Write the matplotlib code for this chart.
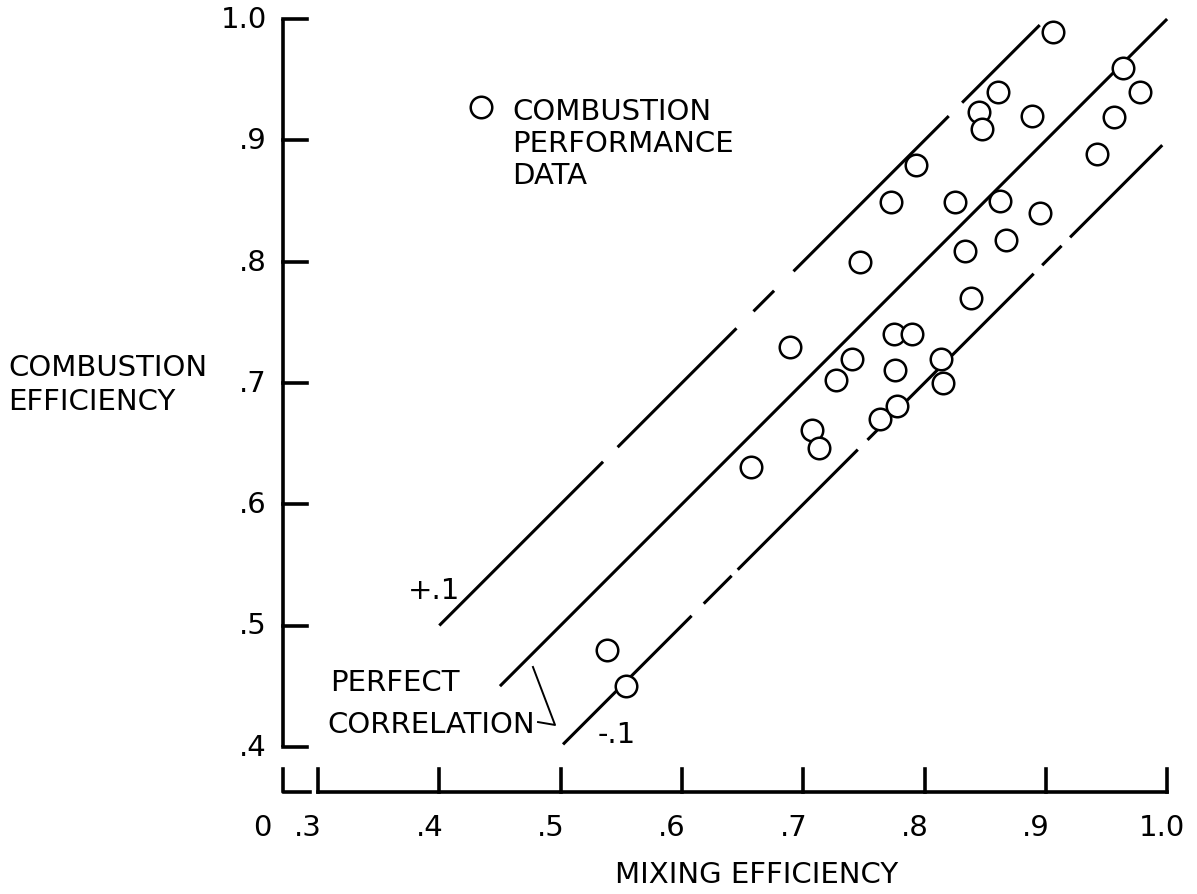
import matplotlib
matplotlib.use("Agg")
import matplotlib.pyplot as plt

# data
mixing = [0.538, 0.554, 0.657, 0.689, 0.707, 0.713, 0.727, 0.740, 0.747, 0.763,
          0.772, 0.775, 0.776, 0.777, 0.790, 0.793, 0.814, 0.815, 0.825, 0.833,
          0.838, 0.845, 0.847, 0.861, 0.862, 0.867, 0.889, 0.895, 0.906, 0.942,
          0.956, 0.964, 0.978]
combustion = [0.480, 0.450, 0.631, 0.730, 0.661, 0.646, 0.702, 0.720, 0.800, 0.670,
              0.849, 0.740, 0.711, 0.681, 0.740, 0.880, 0.720, 0.700, 0.849, 0.809,
              0.770, 0.923, 0.909, 0.940, 0.850, 0.818, 0.920, 0.840, 0.989, 0.889,
              0.919, 0.960, 0.940]

# correlation band: offset from perfect line and drawn x-ranges (scan has gaps)
band_offsets = [0.1, 0.0, -0.1]
band_segments = [
    [(0.40, 0.535), (0.547, 0.645), (0.659, 0.676), (0.692, 0.820), (0.831, 0.895)],
    [(0.45, 1.0)],
    [(0.502, 0.608), (0.618, 0.641), (0.646, 0.745), (0.753, 0.890), (0.897, 0.913), (0.920, 0.996)],
]

x_ticks = [0.3, 0.4, 0.5, 0.6, 0.7, 0.8, 0.9, 1.0]
x_labels = ['.3', '.4', '.5', '.6', '.7', '.8', '.9', '1.0']
y_ticks = [0.4, 0.5, 0.6, 0.7, 0.8, 0.9, 1.0]
y_labels = ['.4', '.5', '.6', '.7', '.8', '.9', '1.0']

plt.rcParams['font.family'] = ['DejaVu Sans']
FS = 21

fig = plt.figure(figsize=(11.97, 8.95), dpi=100)
ax = fig.add_axes([0, 0, 1, 1])
# pixel mapping of the original: 0.1 unit = 121.3 px on both axes
ax.set_xlim(0.3 - 318 / 1213, 0.3 + 879 / 1213)
ax.set_ylim(1 - 875 / 1213, 1 + 20 / 1213)
ax.axis('off')

lw_axis = 2.6
lw_line = 2.2
yax_x = 0.2711
xax_y = 0.3627

# y axis with inward ticks
ax.plot([yax_x, yax_x], [0.4, 1.0], color='black', lw=lw_axis, solid_capstyle='butt')
for t, lab in zip(y_ticks, y_labels):
    ax.plot([yax_x, yax_x + 0.0198], [t, t], color='black', lw=lw_axis)
    ax.text(0.258, t, lab, fontsize=FS, ha='right', va='center')

# origin piece of the broken axis
ax.plot([yax_x, yax_x, 0.2934], [0.3817, xax_y, xax_y], color='black', lw=lw_axis)
ax.text(0.2538, 0.3339, '0', fontsize=FS, ha='center', va='center')

# x axis with upward ticks
ax.plot([0.3, 1.0], [xax_y, xax_y], color='black', lw=lw_axis)
for t, lab in zip(x_ticks, x_labels):
    ax.plot([t, t], [xax_y, xax_y + 0.019], color='black', lw=lw_axis)
    off = -0.004 if lab == '1.0' else -0.008
    ax.text(t + off, 0.3339, lab, fontsize=FS, ha='center', va='center')

ax.text(0.6619, 0.2951, 'MIXING EFFICIENCY', fontsize=FS, ha='center', va='center')
ax.text(0.0444, 0.6991, 'COMBUSTION\nEFFICIENCY', fontsize=FS, ha='left', va='center',
        linespacing=1.25)

# correlation lines
for off, segs in zip(band_offsets, band_segments):
    for a, b in segs:
        ax.plot([a, b], [a + off, b + off], color='black', lw=lw_line,
                solid_capstyle='butt', zorder=2)

ax.text(0.3956, 0.5293, '+.1', fontsize=FS, ha='center', va='center')
ax.text(0.5465, 0.4106, '-.1', fontsize=FS, ha='center', va='center')
ax.text(0.3099, 0.4534, 'PERFECT', fontsize=FS, ha='left', va='center')
ax.text(0.3074, 0.4188, 'CORRELATION', fontsize=FS, ha='left', va='center')
ax.plot([0.4814, 0.4954, 0.4772], [0.4204, 0.4180, 0.4658], color='black', lw=1.4)

# data points
ax.plot(mixing, combustion, 'o', ms=15.5, mfc='white', mec='black', mew=1.8,
        zorder=3, clip_on=False)

# key
ax.plot([0.4344], [0.9275], 'o', ms=15.5, mfc='white', mec='black', mew=1.8)
ax.text(0.4599, 0.8978, 'COMBUSTION\nPERFORMANCE\nDATA', fontsize=FS, ha='left',
        va='center', linespacing=1.2)

fig.savefig('out.png', dpi=100, facecolor='white')
